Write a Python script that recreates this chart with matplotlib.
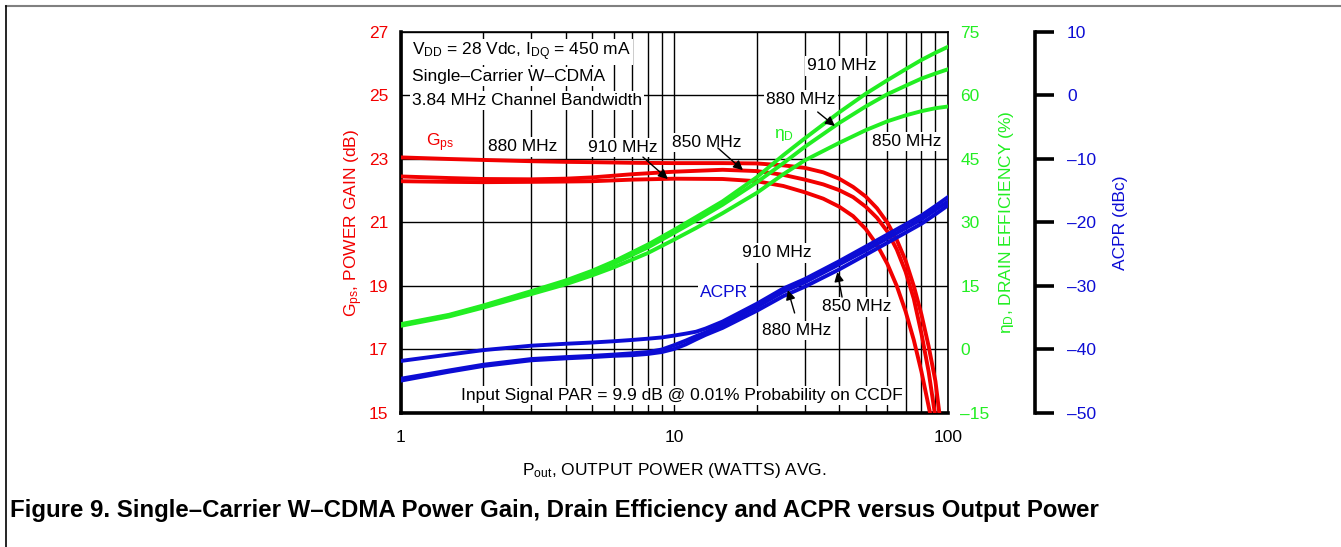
import matplotlib
matplotlib.use("Agg")
import matplotlib.pyplot as plt
from matplotlib.lines import Line2D
from matplotlib.ticker import FixedLocator, FuncFormatter, NullFormatter

plt.rcParams["font.family"] = ["Liberation Sans", "DejaVu Sans"]
plt.rcParams["mathtext.fontset"] = "custom"
plt.rcParams["mathtext.rm"] = "Liberation Sans"
plt.rcParams["mathtext.it"] = "Liberation Sans"
plt.rcParams["mathtext.default"] = "regular"

RED = "#f20000"
GREEN = "#22ee22"
BLUE = "#0c0cd4"

# power gain (dB) vs output power (W)
pout_gain = [1, 1.5, 2, 3, 4, 5, 7, 10, 15, 20, 25, 30, 35, 40, 45, 50, 55, 60, 65, 70, 75, 80, 85, 90, 93]
gain_880 = [23.05, 23.0, 22.97, 22.93, 22.91, 22.9, 22.88, 22.87, 22.87, 22.86, 22.8, 22.72, 22.58, 22.38,
            22.12, 21.82, 21.45, 21.0, 20.45, 19.8, 19.0, 18.1, 17.1, 16.0, 15.0]
pout_gain_850 = [1, 1.5, 2, 3, 4, 5, 7, 10, 15, 20, 25, 30, 35, 40, 45, 50, 55, 60, 65, 70, 75, 80, 85, 89.5]
gain_850 = [22.45, 22.4, 22.37, 22.36, 22.38, 22.42, 22.52, 22.6, 22.66, 22.62, 22.5, 22.35, 22.2, 22.02,
            21.8, 21.5, 21.15, 20.72, 20.15, 19.45, 18.6, 17.5, 16.3, 15.0]
pout_gain_910 = [1, 1.5, 2, 3, 4, 5, 7, 10, 15, 20, 25, 30, 35, 40, 45, 50, 55, 60, 65, 70, 75, 80, 86]
gain_910 = [22.3, 22.28, 22.27, 22.28, 22.29, 22.3, 22.35, 22.38, 22.37, 22.3, 22.15, 21.95, 21.75, 21.5,
            21.2, 20.8, 20.3, 19.7, 19.0, 18.2, 17.3, 16.3, 15.0]

# drain efficiency (%)
pout = [1, 1.5, 2, 3, 4, 5, 6, 8, 10, 12, 15, 20, 25, 30, 40, 50, 60, 70, 80, 90, 100]
eff_910 = [6.0, 8.2, 10.4, 13.8, 16.3, 18.6, 20.8, 24.8, 28.3, 31.3, 35.0, 40.7, 45.9, 49.9, 56.0, 60.4,
           63.6, 66.2, 68.4, 70.1, 71.5]
eff_880 = [5.8, 8.0, 10.2, 13.5, 16.0, 18.2, 20.3, 24.1, 27.6, 30.5, 34.2, 39.5, 44.0, 47.9, 53.5, 57.4,
           60.3, 62.3, 64.0, 65.2, 66.2]
eff_850 = [5.6, 7.8, 9.9, 13.1, 15.4, 17.5, 19.4, 22.8, 26.0, 28.7, 32.2, 37.0, 41.4, 44.7, 48.8, 51.8,
           53.9, 55.3, 56.3, 57.0, 57.4]

# ACPR (dBc)
pout_acpr = [1, 1.5, 2, 3, 4, 5, 6, 7, 8, 9, 10, 11, 12, 13, 15, 20, 25, 30, 40, 50, 60, 70, 80, 90, 100]
acpr_910 = [-41.8, -40.8, -40.1, -39.4, -39.1, -38.9, -38.7, -38.5, -38.3, -38.1, -37.8, -37.5, -37.2,
            -36.7, -35.6, -32.8, -30.4, -28.9, -26.1, -23.8, -21.9, -20.3, -18.9, -17.4, -16.0]
acpr_880 = [-44.6, -43.3, -42.4, -41.5, -41.2, -41.0, -40.8, -40.6, -40.4, -40.0, -39.3, -38.6, -37.9,
            -37.3, -36.1, -33.3, -30.9, -29.4, -26.6, -24.4, -22.5, -20.9, -19.5, -18.0, -16.7]
acpr_850 = [-44.9, -43.5, -42.6, -41.7, -41.4, -41.2, -41.0, -40.9, -40.7, -40.4, -39.9, -39.2, -38.4,
            -37.7, -36.6, -33.9, -31.6, -30.1, -27.4, -25.1, -23.2, -21.6, -20.2, -18.7, -17.3]

x_ticks = [1, 10, 100]
gain_ticks = [15, 17, 19, 21, 23, 25, 27]
eff_ticks = [-15, 0, 15, 30, 45, 60, 75]
acpr_ticks = [-50, -40, -30, -20, -10, 0, 10]

FS = 12.5


def dash_minus(v, pos=None):
    return f"{v:g}".replace("-", "\u2013")


fig = plt.figure(figsize=(13.41, 5.47), dpi=100)
ax = fig.add_axes([0.299, 0.245, 0.4079, 0.6965])

ax.set_xscale("log")
ax.set_xlim(1, 100)
ax.set_ylim(15, 27)
ax.xaxis.set_major_locator(FixedLocator(x_ticks))
ax.xaxis.set_minor_locator(FixedLocator([2, 3, 4, 5, 6, 7, 8, 9, 20, 30, 40, 50, 60, 70, 80, 90]))
ax.xaxis.set_minor_formatter(NullFormatter())
ax.set_xticklabels([str(t) for t in x_ticks])
ax.set_yticks(gain_ticks)
ax.grid(which="both", color="black", lw=1.0, zorder=0.5)
ax.set_axisbelow(True)
ax.tick_params(axis="x", which="both", length=0, pad=12, labelsize=FS)
ax.tick_params(axis="y", length=0, pad=9, labelsize=FS, labelcolor=RED)
ax.spines["left"].set_linewidth(2.6)
ax.spines["bottom"].set_linewidth(2.6)
ax.spines["top"].set_linewidth(1.2)
ax.spines["right"].set_linewidth(1.2)

ax.set_xlabel("P$_{out}$, OUTPUT POWER (WATTS) AVG.", fontsize=FS, labelpad=12)
ax.set_ylabel("G$_{ps}$, POWER GAIN (dB)", fontsize=FS, color=RED, labelpad=3)

ax.plot(pout_gain, gain_880, color=RED, lw=2.8, zorder=4)
ax.plot(pout_gain_850, gain_850, color=RED, lw=2.8, zorder=4)
ax.plot(pout_gain_910, gain_910, color=RED, lw=2.8, zorder=4)

# drain efficiency axis
ax2 = ax.twinx()
ax2.set_ylim(-15, 75)
ax2.set_yticks(eff_ticks)
ax2.yaxis.set_major_formatter(FuncFormatter(dash_minus))
ax2.tick_params(axis="y", length=0, pad=9, labelsize=FS, labelcolor=GREEN)
for s in ax2.spines.values():
    s.set_visible(False)
ax2.set_ylabel("\u03b7$_{D}$, DRAIN EFFICIENCY (%)", fontsize=FS, color=GREEN, labelpad=5)
ax2.plot(pout, eff_910, color=GREEN, lw=2.8)
ax2.plot(pout, eff_880, color=GREEN, lw=2.8)
ax2.plot(pout, eff_850, color=GREEN, lw=2.8)

# ACPR axis, offset to the right
ax3 = ax.twinx()
ax3.set_ylim(-50, 10)
ax3.set_yticks(acpr_ticks)
ax3.yaxis.set_major_formatter(FuncFormatter(dash_minus))
for name, s in ax3.spines.items():
    s.set_visible(name == "right")
ax3.spines["right"].set_position(("axes", 634 / 547))
ax3.spines["right"].set_linewidth(2.6)
ax3.tick_params(axis="y", direction="out", length=14, width=2.6, color="black", pad=9,
                labelsize=FS, labelcolor=BLUE)
ax3.set_ylabel("ACPR (dBc)", fontsize=FS, color=BLUE, labelpad=12)
ax3.plot(pout_acpr, acpr_910, color=BLUE, lw=2.8)
ax3.plot(pout_acpr, acpr_880, color=BLUE, lw=2.8)
ax3.plot(pout_acpr, acpr_850, color=BLUE, lw=2.8)

box = dict(facecolor="white", edgecolor="none", pad=1.5)
txt = dict(fontsize=FS, zorder=3, bbox=box)

ax.text(1.1, 26.37, "V$_{DD}$ = 28 Vdc, I$_{DQ}$ = 450 mA", ha="left", va="center", **txt)
ax.text(1.1, 25.61, "Single\u2013Carrier W\u2013CDMA", ha="left", va="center", **txt)
ax.text(1.1, 24.83, "3.84 MHz Channel Bandwidth", ha="left", va="center", **txt)
ax.text(1.39, 23.5, "G$_{ps}$", ha="center", va="center", color=RED, fontsize=FS, zorder=3)
ax.text(2.79, 23.38, "880 MHz", ha="center", va="center", **txt)
ax.text(6.48, 23.35, "910 MHz", ha="center", va="center", **txt)
ax.text(13.16, 23.52, "850 MHz", ha="center", va="center", **txt)
ax.text(25.1, 23.76, "\u03b7$_{D}$", ha="center", va="center", color=GREEN, fontsize=FS, zorder=3)
ax.text(41.0, 25.93, "910 MHz", ha="center", va="center", **txt)
ax.text(29.0, 24.86, "880 MHz", ha="center", va="center", **txt)
ax.text(70.8, 23.55, "850 MHz", ha="center", va="center", **txt)
ax.text(23.7, 20.04, "910 MHz", ha="center", va="center", **txt)
ax.text(15.15, 18.81, "ACPR", ha="center", va="center", color=BLUE, fontsize=FS, zorder=3, bbox=box)
ax.text(28.0, 17.61, "880 MHz", ha="center", va="center", **txt)
ax.text(46.5, 18.34, "850 MHz", ha="center", va="center", **txt)
ax.text(10.67, 15.54, "Input Signal PAR = 9.9 dB @ 0.01% Probability on CCDF",
        ha="center", va="center", **txt)

arrow = dict(arrowstyle="-|>", color="black", lw=1.0, mutation_scale=14, shrinkA=0, shrinkB=0)
for tail, tip in [((7.67, 23.06), (9.46, 22.37)),
                  ((14.4, 23.35), (17.8, 22.65)),
                  ((33.4, 24.48), (38.6, 24.04)),
                  ((27.5, 18.15), (26.0, 18.87)),
                  ((41.0, 18.65), (39.4, 19.44))]:
    ax3.annotate("", xy=tip, xytext=tail, xycoords=ax.transData, textcoords=ax.transData,
                 arrowprops=arrow)

fig.text(10 / 1341, 1 - 510 / 547, "Figure 9. Single\u2013Carrier W\u2013CDMA Power Gain, Drain Efficiency "
         "and ACPR versus Output Power", ha="left", va="center", fontsize=17.3, fontweight="bold")

# page frame
fig.add_artist(Line2D([6 / 1341, 1], [1 - 6 / 547, 1 - 6 / 547], transform=fig.transFigure,
                      color="#808080", lw=1.5))
fig.add_artist(Line2D([6 / 1341, 6 / 1341], [0, 1 - 6 / 547], transform=fig.transFigure,
                      color="black", lw=1.2))

fig.savefig("out.png", dpi=100)
